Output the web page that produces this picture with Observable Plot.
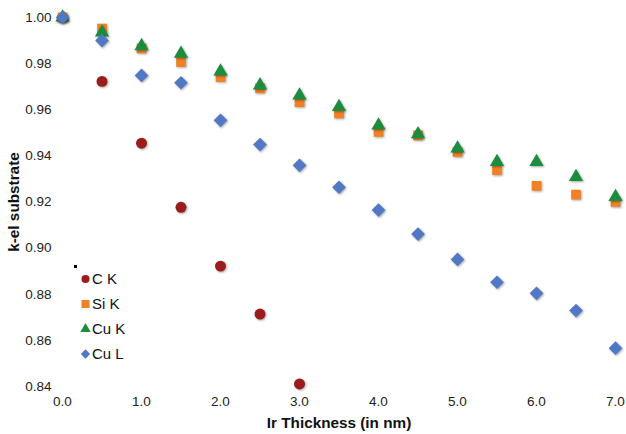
<!DOCTYPE html>
<html>
<head>
<meta charset="utf-8">
<script src="https://cdn.jsdelivr.net/npm/d3@7"></script>
<script src="https://cdn.jsdelivr.net/npm/@observablehq/plot@0.6"></script>
<style>
  html, body { margin: 0; padding: 0; background: #fff; }
  #wrap { position: relative; width: 626px; height: 434px; font-family: "Liberation Sans", Arial, Helvetica, sans-serif; }
  #wrap svg.plotsvg g[aria-label="dot"] path { filter: drop-shadow(1px 1.5px 1px rgba(0,0,0,0.35)); }
  #wrap svg.plotsvg g[aria-label="x-axis tick label"] text,
  #wrap svg.plotsvg g[aria-label="y-axis tick label"] text { font-size: 13.5px; fill: #222; }
  #wrap svg.plotsvg g[aria-label="x-axis label"] text,
  #wrap svg.plotsvg g[aria-label="y-axis label"] text { font-size: 15.3px; font-weight: bold; fill: #111; }
  #legend { position: absolute; left: 80px; top: 266px; font-size: 15px; color: #111; }
  #legend .row { display: flex; align-items: center; height: 25px; }
  #legend svg { margin-right: 1px; }
  #blk { position: absolute; left: 74px; top: 265px; width: 3px; height: 3px; background: #000; }
</style>
</head>
<body>
<div id="wrap"></div>
<script>
const thickness = [0, 0.5, 1.0, 1.5, 2.0, 2.5, 3.0, 3.5, 4.0, 4.5, 5.0, 5.5, 6.0, 6.5, 7.0];
const seriesNames = ["C K", "Si K", "Cu K", "Cu L"];
const cK  = [1.000, 0.9723, 0.9455, 0.9177, 0.8922, 0.8714, 0.8411];
const siK = [1.000, 0.9952, 0.9866, 0.9807, 0.9742, 0.9693, 0.9633, 0.9584, 0.9504, 0.9489, 0.9417, 0.9338, 0.9270, 0.9232, 0.9200];
const cuK = [1.000, 0.9935, 0.9876, 0.9843, 0.9766, 0.9706, 0.9662, 0.9612, 0.9532, 0.9494, 0.9432, 0.9374, 0.9374, 0.9309, 0.9222];
const cuL = [1.000, 0.9900, 0.9749, 0.9717, 0.9554, 0.9449, 0.9359, 0.9264, 0.9165, 0.9061, 0.8951, 0.8852, 0.8804, 0.8729, 0.8566];
const yTicks = [0.84, 0.86, 0.88, 0.90, 0.92, 0.94, 0.96, 0.98, 1.00];
const xTicks = [0, 1, 2, 3, 4, 5, 6, 7];

const colors = ["#9b1c1c", "#f28024", "#1c8c3e", "#5078c4"];
const symbols = ["circle", "square", "triangle", "diamond2"];
const sizes = [30, 30, 28, 38];

const toRows = (vals, name) => vals.map((v, i) => ({x: thickness[i], y: v, s: name}));
const all = [cK, siK, cuK, cuL].map((v, i) => toRows(v, seriesNames[i]));

const marks = all.map((rows, i) => Plot.dot(rows, {
  x: "x", y: "y", symbol: () => symbols[i], fill: colors[i], stroke: "none", r: Math.sqrt(sizes[i])
}));

const chart = Plot.plot({
  width: 626, height: 434,
  marginLeft: 62, marginRight: 11, marginTop: 17, marginBottom: 48,
  className: "plotsvg",
  style: {fontFamily: "'Liberation Sans', Arial, Helvetica, sans-serif", fontSize: "13px", color: "#222", background: "#fff"},
  x: {domain: [0, 7], ticks: xTicks, tickFormat: d3.format(".1f")},
  y: {domain: [0.84, 1.00], ticks: yTicks, tickFormat: d3.format(".2f")},
  symbol: {type: "identity"},
  marks: [
    Plot.axisX({ticks: xTicks, tickFormat: d3.format(".1f"), tickSize: 0, tickPadding: 10, label: "Ir Thickness (in nm)", labelAnchor: "center", labelArrow: "none", labelOffset: 41}),
    Plot.axisY({ticks: yTicks, tickFormat: d3.format(".2f"), tickSize: 0, tickPadding: 11, label: "k-el substrate", labelAnchor: "center", labelArrow: "none", labelOffset: 54}),
    ...marks
  ]
});
document.getElementById("wrap").appendChild(chart);

// legend
const legend = document.createElement("div");
legend.id = "legend";
seriesNames.forEach((name, i) => {
  const row = document.createElement("div");
  row.className = "row";
  const sym = {circle: d3.symbolCircle, square: d3.symbolSquare, triangle: d3.symbolTriangle, diamond2: d3.symbolDiamond2}[symbols[i]];
  const path = d3.symbol(sym, [52, 64, 46, 56][i])();
  row.innerHTML = `<svg width="11" height="12" viewBox="-5.5 -6 11 12"><path d="${path}" fill="${colors[i]}"/></svg><span>${name}</span>`;
  legend.appendChild(row);
});
document.getElementById("wrap").appendChild(legend);
const blk = document.createElement("div"); blk.id = "blk";
document.getElementById("wrap").appendChild(blk);
</script>
</body>
</html>
